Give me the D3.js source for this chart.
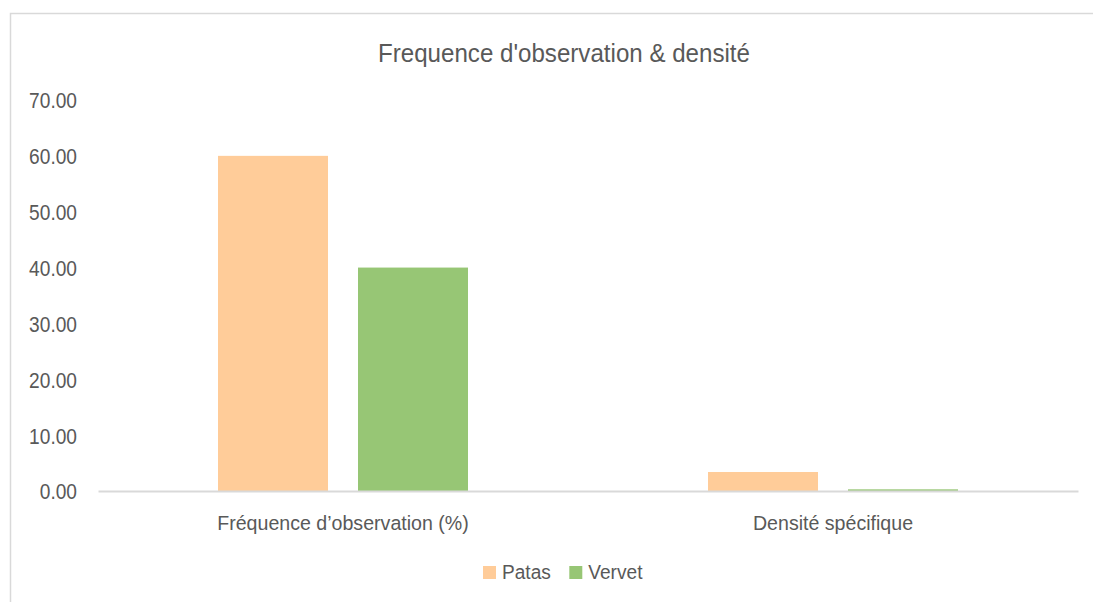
<!DOCTYPE html>
<html>
<head>
<meta charset="utf-8">
<script src="https://cdn.jsdelivr.net/npm/d3@7"></script>
<style>
  html, body { margin: 0; padding: 0; background: #fff; }
  svg text { font-family: "Liberation Sans", Arial, sans-serif; fill: #595959; }
</style>
</head>
<body>
<svg id="chart" width="1093" height="602"></svg>
<script>
// Categories, series and values
const categories = ["Fréquence d\u2019observation (%)", "Densité spécifique"];
const seriesNames = ["Patas", "Vervet"];
const patasValues = [60.0, 3.4];
const vervetValues = [40.0, 0.3];
const yTickValues = [0, 10, 20, 30, 40, 50, 60, 70];
const titleText = "Frequence d'observation & densité";

const colors = { Patas: "#FFCC99", Vervet: "#97C675" };
const valuesBySeries = { Patas: patasValues, Vervet: vervetValues };

const svg = d3.select("#chart");
const W = 1093, H = 602;
const plot = { left: 98, right: 1078, top: 100, bottom: 491 };

// Slightly condensed type: font size plus a horizontal squeeze around the anchor
function styleText(sel, size, squeeze) {
  sel.style("font-size", size + "px")
     .attr("transform", `scale(${squeeze},1)`);
}

// Chart frame
svg.append("rect")
  .attr("x", 10.5).attr("y", 13.5)
  .attr("width", W + 10).attr("height", H + 10)
  .attr("fill", "#fff").attr("stroke", "#D9D9D9").attr("stroke-width", 1.5);

// Scales
const y = d3.scaleLinear().domain([0, 70]).range([plot.bottom, plot.top]);
const x0 = d3.scaleBand().domain(categories).range([plot.left, plot.right])
  .paddingInner(240 / 490).paddingOuter(120 / 490);
const x1 = d3.scaleBand().domain(seriesNames).range([0, x0.bandwidth()])
  .paddingInner(30 / 140).paddingOuter(0);

// Title
svg.append("g").attr("transform", "translate(564,62)")
  .append("text")
  .attr("text-anchor", "middle")
  .text(titleText)
  .call(styleText, 25.5, 0.946);

// Y axis labels (no axis line or gridlines)
const yAxis = d3.axisLeft(y).tickValues(yTickValues).tickSize(0).tickPadding(0)
  .tickFormat(d3.format(".2f"));
const yg = svg.append("g").attr("transform", "translate(77,0)").call(yAxis);
yg.select(".domain").remove();
yg.selectAll("text").attr("fill", "#595959").attr("dy", "0.36em").call(styleText, 22, 0.87);

// Bars
const groups = svg.append("g").selectAll("g")
  .data(categories)
  .join("g")
  .attr("transform", d => `translate(${x0(d)},0)`);

groups.selectAll("rect")
  .data((c, i) => seriesNames.map(s => ({ s, v: valuesBySeries[s][i] })))
  .join("rect")
  .attr("x", d => x1(d.s))
  .attr("width", x1.bandwidth())
  .attr("y", d => y(d.v))
  .attr("height", d => y(0) - y(d.v))
  .attr("fill", d => colors[d.s]);

// X axis baseline and category labels
const xAxis = d3.axisBottom(x0).tickSize(0).tickPadding(24);
const xg = svg.append("g").attr("transform", `translate(0,${plot.bottom})`).call(xAxis);
xg.select(".domain").attr("stroke", "#D9D9D9").attr("stroke-width", 2);
xg.selectAll("text").attr("fill", "#595959").call(styleText, 20.5, 0.956);

// Legend
const legend = svg.append("g").attr("transform", "translate(483,566)");
const legendOffsets = [0, 86.3];
seriesNames.forEach((s, i) => {
  const g = legend.append("g").attr("transform", `translate(${legendOffsets[i]},0)`);
  g.append("rect").attr("width", 13).attr("height", 13).attr("fill", colors[s]);
  g.append("g").attr("transform", "translate(19,12.5)")
    .append("text").text(s)
    .call(styleText, 21, 0.91);
});
</script>
</body>
</html>
